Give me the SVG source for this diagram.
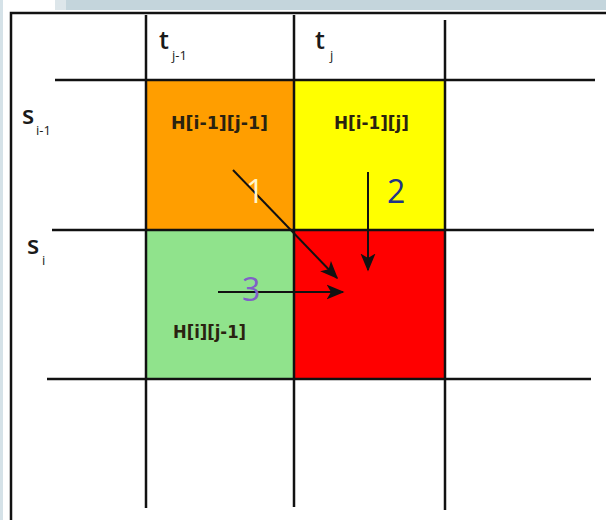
<svg xmlns="http://www.w3.org/2000/svg" width="606" height="520" viewBox="0 0 606 520">
<defs>
<style>
.grid{stroke:#111;stroke-width:2.5;fill:none}
.lbl{font-family:"Open Sans","DejaVu Sans",sans-serif;fill:#1a1a1a;font-weight:600}
.sub{font-family:"Open Sans","DejaVu Sans",sans-serif;fill:#1a1a1a;font-size:13px}
.cell{font-family:"DejaVu Sans Condensed","DejaVu Sans",sans-serif;font-size:17px;font-weight:bold;fill:#2a2210}
.num{font-family:"Open Sans","DejaVu Sans",sans-serif;font-size:32px}
.arr{stroke:#111;stroke-width:2;fill:none;marker-end:url(#ah)}
</style>
<marker id="ah" viewBox="0 0 12 10" refX="11" refY="5" markerWidth="9" markerHeight="8" markerUnits="strokeWidth" orient="auto">
<path d="M0,0 L12,5 L0,10 L3,5 Z" fill="#111"/>
</marker>
</defs>
<rect x="0" y="0" width="606" height="520" fill="#ffffff"/>
<rect x="55" y="0" width="551" height="10" fill="#c4d5dc"/>
<rect x="55" y="0" width="11" height="10" fill="#dde6ea"/>
<rect x="0" y="0" width="3" height="520" fill="#d5e2e8"/>
<path d="M11,520 V13 H606" stroke="#111" stroke-width="2.5" fill="none"/>
<g id="cell-diag"><rect x="146" y="80" width="148" height="150" fill="#ff9e00"/><text class="cell" x="171" y="129" textLength="97" lengthAdjust="spacingAndGlyphs">H[i-1][j-1]</text></g>
<g id="cell-up"><rect x="294" y="80" width="151" height="150" fill="#ffff00"/><text class="cell" x="334" y="129" textLength="75" lengthAdjust="spacingAndGlyphs">H[i-1][j]</text></g>
<g id="cell-left"><rect x="146" y="230" width="148" height="149" fill="#90e38c"/><text class="cell" x="173" y="338" textLength="73" lengthAdjust="spacingAndGlyphs">H[i][j-1]</text></g>
<g id="cell-cur"><rect x="294" y="230" width="151" height="149" fill="#ff0000"/></g>
<g id="grid">
<line class="grid" x1="146" y1="15" x2="146" y2="508"/>
<line class="grid" x1="294" y1="15" x2="294" y2="507"/>
<line class="grid" x1="445" y1="20" x2="445" y2="510"/>
<line class="grid" x1="55" y1="80" x2="595" y2="80"/>
<line class="grid" x1="52" y1="230" x2="594" y2="230"/>
<line class="grid" x1="47" y1="379" x2="591" y2="379"/>
</g>
<g id="headers">
<text class="lbl" x="159" y="49" font-size="25">t</text><text class="sub" x="172" y="60">j-1</text>
<text class="lbl" x="315" y="49" font-size="25">t</text><text class="sub" x="330" y="60">j</text>
<text class="lbl" x="22" y="124" font-size="25">s</text><text class="sub" x="36" y="135">i-1</text>
<text class="lbl" x="27" y="254" font-size="25">s</text><text class="sub" x="42" y="265">i</text>
</g>
<g id="connectors">
<line class="arr" x1="233" y1="170" x2="337" y2="278"/>
<line class="arr" x1="368" y1="172" x2="368" y2="270"/>
<line class="arr" x1="218" y1="292" x2="343" y2="292"/>
</g>
<g id="numbers">
<text class="num" x="246" y="203" fill="#fff6cc">1</text>
<text class="num" x="387" y="203" fill="#223388">2</text>
<text class="num" x="242" y="301" fill="#8060c8">3</text>
</g>
</svg>
